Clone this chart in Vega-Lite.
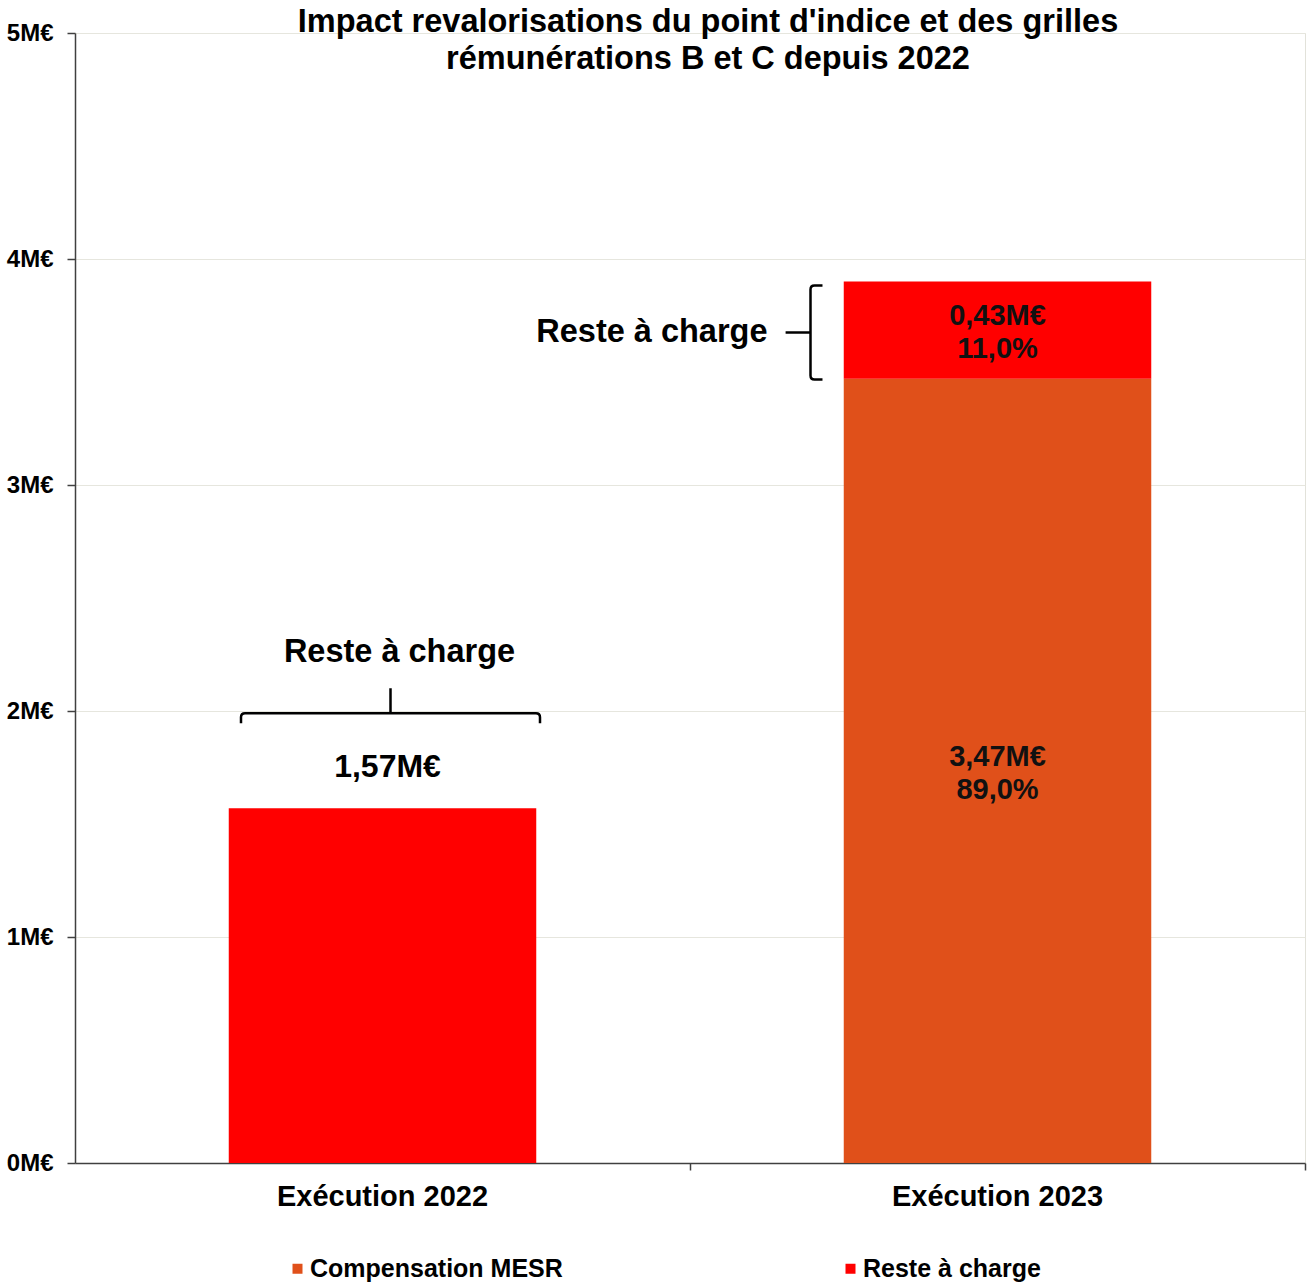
{
  "$schema": "https://vega.github.io/schema/vega-lite/v6.json",
  "width": 1230,
  "height": 1130,
  "autosize": "none",
  "padding": {"left": 75, "top": 33, "right": 3, "bottom": 124},
  "config": {
    "font": "Liberation Sans",
    "view": {"stroke": "#e2e2da"},
    "axis": {"labelFontWeight": "bold", "labelColor": "#000000", "domainColor": "#404040", "tickColor": "#404040", "domainWidth": 1.5, "tickWidth": 1.5}
  },
  "title": {
    "text": ["Impact revalorisations du point d'indice et des grilles", "rémunérations B et C depuis 2022"],
    "fontSize": 32.5,
    "fontWeight": "bold",
    "lineHeight": 37,
    "color": "#000000",
    "anchor": "middle",
    "dx": 18,
    "offset": -54
  },
  "data": {
    "values": [
      {"category": "Exécution 2022", "series": "Reste à charge", "value": 1.57, "label": "1,57M€"},
      {"category": "Exécution 2023", "series": "Compensation MESR", "value": 3.47, "label": "3,47M€\n89,0%"},
      {"category": "Exécution 2023", "series": "Reste à charge", "value": 0.43, "label": "0,43M€\n11,0%"}
    ]
  },
  "resolve": {"axis": {"x": "independent"}},
  "layer": [
    {
      "mark": {"type": "bar"},
      "encoding": {
        "x": {
          "field": "category", "type": "nominal", "sort": null,
          "scale": {"paddingInner": 0.5, "paddingOuter": 0.25},
          "axis": {"title": null, "orient": "bottom", "labelAngle": 0, "labelFontSize": 29, "ticks": false, "labelPadding": 19, "labelLimit": 500}
        },
        "y": {
          "field": "value", "type": "quantitative", "stack": "zero",
          "scale": {"domain": [0, 5]},
          "axis": {"title": null, "values": [0, 1, 2, 3, 4, 5], "labelExpr": "datum.value + 'M€'", "labelFontSize": 24, "tickSize": 8, "labelPadding": 14, "gridColor": "#e6e6de", "gridWidth": 1}
        },
        "order": {"field": "series", "type": "nominal", "sort": "ascending"},
        "color": {
          "field": "series", "type": "nominal",
          "scale": {"domain": ["Compensation MESR", "Reste à charge"], "range": ["#E0501A", "#FF0000"]},
          "legend": {
            "title": null, "orient": "none", "legendX": 210, "legendY": 1223, "direction": "horizontal",
            "symbolType": "square", "symbolSize": 100, "symbolStrokeWidth": 0,
            "labelFontSize": 25, "labelFontWeight": "bold", "labelColor": "#000000", "labelOffset": 0, "columnPadding": 275, "labelLimit": 400
          }
        }
      }
    },
    {
      "mark": {"type": "bar", "opacity": 0},
      "encoding": {
        "x": {
          "field": "category", "type": "nominal", "sort": null,
          "axis": {"title": null, "orient": "bottom", "labels": false, "domain": false, "grid": false, "bandPosition": 1.5, "tickSize": 7}
        },
        "y": {"field": "value", "type": "quantitative", "stack": "zero"},
        "order": {"field": "series", "type": "nominal", "sort": "ascending"}
      }
    },
    {
      "transform": [{"filter": "datum.category == 'Exécution 2023'"}],
      "mark": {"type": "text", "fontSize": 29, "fontWeight": "bold", "color": "#111111", "lineBreak": "\n", "lineHeight": 33, "baseline": "middle", "yOffset": -14},
      "encoding": {
        "x": {"field": "category", "type": "nominal", "sort": null, "axis": null},
        "y": {"field": "value", "type": "quantitative", "stack": "zero", "bandPosition": 0.5},
        "order": {"field": "series", "type": "nominal", "sort": "ascending"},
        "detail": {"field": "series"},
        "text": {"field": "label"}
      }
    },
    {
      "transform": [{"filter": "datum.category == 'Exécution 2022'"}],
      "mark": {"type": "text", "fontSize": 32, "fontWeight": "bold", "color": "#000000", "baseline": "alphabetic", "yOffset": -31, "xOffset": 5},
      "encoding": {
        "x": {"field": "category", "type": "nominal", "sort": null, "axis": null},
        "y": {"field": "value", "type": "quantitative"},
        "text": {"field": "label"}
      }
    },
    {
      "transform": [{"filter": "datum.category == 'Exécution 2022'"}],
      "mark": {"type": "point", "filled": false, "opacity": 1, "color": "#000000", "strokeWidth": 2.5, "size": 89400, "xOffset": 8, "yOffset": -95,
        "shape": "M -1 0.067 L -1 0.027 Q -1 0 -0.973 0 L 0.973 0 Q 1 0 1 0.027 L 1 0.067 M 0 0 L 0 -0.167"},
      "encoding": {
        "x": {"field": "category", "type": "nominal", "sort": null, "axis": null},
        "y": {"field": "value", "type": "quantitative"}
      }
    },
    {
      "transform": [{"filter": "datum.category == 'Exécution 2022'"}],
      "mark": {"type": "text", "fontSize": 32.5, "fontWeight": "bold", "color": "#000000", "baseline": "alphabetic", "yOffset": -146, "xOffset": 17},
      "encoding": {
        "x": {"field": "category", "type": "nominal", "sort": null, "axis": null},
        "y": {"field": "value", "type": "quantitative"},
        "text": {"field": "series"}
      }
    },
    {
      "transform": [
        {"filter": "datum.category == 'Exécution 2023'"},
        {"stack": "value", "groupby": ["category"], "sort": [{"field": "series", "order": "ascending"}], "as": ["v0", "v1"]},
        {"filter": "datum.series == 'Reste à charge'"}
      ],
      "mark": {"type": "point", "filled": false, "opacity": 1, "color": "#000000", "strokeWidth": 2.5, "size": 8836, "xOffset": -187, "yOffset": 51,
        "shape": "M 0.255 -1 L 0.085 -1 Q 0 -1 0 -0.915 L 0 0.915 Q 0 1 0.085 1 L 0.255 1 M 0 0 L -0.53 0"},
      "encoding": {
        "x": {"field": "category", "type": "nominal", "sort": null, "axis": null},
        "y": {"field": "v1", "type": "quantitative"}
      }
    },
    {
      "transform": [
        {"filter": "datum.category == 'Exécution 2023'"},
        {"stack": "value", "groupby": ["category"], "sort": [{"field": "series", "order": "ascending"}], "as": ["v0", "v1"]},
        {"filter": "datum.series == 'Reste à charge'"}
      ],
      "mark": {"type": "text", "fontSize": 32.5, "fontWeight": "bold", "color": "#000000", "align": "right", "baseline": "alphabetic", "xOffset": -230, "yOffset": 60},
      "encoding": {
        "x": {"field": "category", "type": "nominal", "sort": null, "axis": null},
        "y": {"field": "v1", "type": "quantitative"},
        "text": {"field": "series"}
      }
    }
  ]
}
